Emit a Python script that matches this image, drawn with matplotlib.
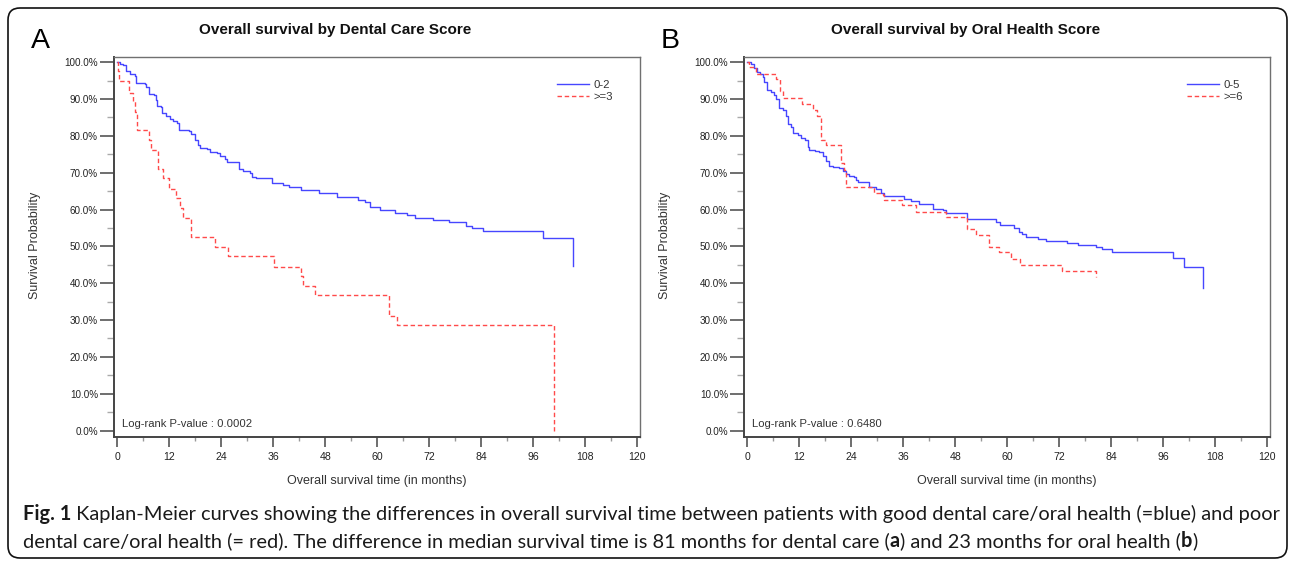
import matplotlib
matplotlib.use('Agg')
import matplotlib.pyplot as plt
from matplotlib.lines import Line2D
from matplotlib.patches import FancyBboxPatch
from matplotlib.ticker import MultipleLocator, FixedLocator

plt.rcParams['font.family'] = ['Liberation Sans', 'DejaVu Sans']

# Panel A: dental care score (time in months, survival in %)
dental_low_t = [0, 0.5, 1.2, 1.9, 2.8, 4.0, 4.3, 6.3, 6.7, 7.3, 8.4, 8.8, 9.2, 10.0, 10.4,
                11.3, 12.1, 12.9, 13.8, 14.3, 16.6, 17.1, 17.9, 18.5, 19.1, 20.6, 21.4, 23.1,
                23.7, 24.9, 25.3, 28.0, 29.1, 30.7, 31.1, 32.0, 35.7, 38.3, 39.6, 42.5, 46.5,
                50.7, 55.5, 57.1, 58.4, 60.7, 64.2, 66.9, 68.8, 72.8, 76.5, 80.5, 81.8, 84.4,
                98.4, 105.2]
dental_low_s = [100, 99.6, 99.1, 97.5, 96.9, 96.2, 94.4, 94.0, 93.3, 91.4, 91.1, 89.8, 88.0,
                87.7, 86.2, 85.3, 84.6, 84.1, 83.5, 81.6, 81.3, 80.5, 78.9, 77.5, 76.8, 76.5,
                75.7, 75.3, 74.4, 73.8, 72.8, 71.0, 70.5, 69.8, 68.9, 68.5, 67.1, 66.7, 66.0,
                65.3, 64.6, 63.4, 62.7, 62.0, 60.7, 59.8, 59.1, 58.4, 57.8, 57.2, 56.5, 55.6,
                54.9, 54.2, 52.2, 44.6]
dental_high_t = [0, 0.1, 0.3, 2.6, 3.5, 4.0, 4.5, 7.4, 7.8, 9.4, 10.5, 11.9, 13.5, 14.4, 15.2,
                 17.0, 22.6, 25.6, 36.2, 42.5, 42.9, 45.7, 62.7, 64.5, 100.9]
dental_high_s = [100, 97.5, 94.8, 91.5, 89.4, 86.6, 81.5, 78.9, 76.2, 70.9, 68.5, 65.7, 63.0,
                 60.3, 57.8, 52.4, 49.8, 47.3, 44.5, 42.0, 39.1, 36.7, 31.2, 28.7, 0]

# Panel B: oral health score
oral_low_t = [0, 0.85, 1.6, 2.2, 2.8, 3.5, 3.9, 4.5, 5.5, 6.2, 6.6, 7.4, 8.2, 8.8, 9.3, 10.1,
              10.5, 11.6, 12.4, 13.2, 13.9, 14.3, 15.5, 16.6, 17.4, 18.1, 18.9, 19.7, 21.2,
              22.0, 22.8, 23.5, 24.7, 25.1, 25.5, 28.1, 29.7, 30.8, 31.6, 36.2, 37.8, 39.7,
              42.8, 45.1, 45.8, 50.8, 57.4, 58.3, 61.6, 62.8, 63.5, 64.3, 67.0, 68.9, 73.9,
              76.3, 80.5, 81.9, 84.3, 98.3, 100.9, 105.3]
oral_low_s = [100, 99.4, 98.5, 97.3, 96.9, 96.0, 94.5, 92.4, 91.8, 91.2, 90.0, 87.5, 86.9,
              85.3, 83.3, 82.4, 80.9, 80.2, 79.4, 78.9, 77.1, 76.2, 75.8, 75.5, 74.4, 73.3,
              71.8, 71.5, 71.2, 70.5, 69.6, 69.1, 68.7, 68.0, 67.5, 66.2, 65.7, 64.5, 63.8,
              62.8, 62.4, 61.5, 60.1, 59.8, 59.1, 57.5, 56.6, 55.7, 55.1, 53.9, 53.3, 52.4,
              51.9, 51.4, 50.9, 50.3, 49.9, 49.2, 48.5, 46.7, 44.4, 38.8]
oral_high_t = [0, 0.3, 2.0, 6.6, 7.5, 8.2, 12.6, 15.1, 16.0, 17.0, 18.1, 21.5, 22.4, 22.8,
               29.3, 31.2, 31.6, 35.8, 38.9, 45.8, 50.8, 52.7, 55.9, 58.2, 60.9, 62.9, 72.6, 80.5]
oral_high_s = [100, 98.7, 96.9, 95.3, 92.1, 90.3, 88.6, 87.1, 85.3, 78.9, 77.4, 72.5, 70.7,
               66.0, 64.5, 63.9, 62.7, 61.2, 59.4, 58.0, 54.8, 53.2, 49.8, 48.5, 46.6, 44.8,
               43.3, 41.6]

panels = [
    dict(letter='A', title='Overall survival by Dental Care Score', labels=['0-2', '>=3'],
         low=(dental_low_t, dental_low_s), high=(dental_high_t, dental_high_s),
         pvalue='Log-rank P-value : 0.0002', left=114, title_x=335),
    dict(letter='B', title='Overall survival by Oral Health Score', labels=['0-5', '>=6'],
         low=(oral_low_t, oral_low_s), high=(oral_high_t, oral_high_s),
         pvalue='Log-rank P-value : 0.6480', left=744, title_x=966),
]

W, H = 1292, 563
BLUE = '#4646ff'
RED = '#ff4a4a'
NARROW = ['Liberation Sans Narrow', 'Liberation Sans', 'DejaVu Sans']

fig = plt.figure(figsize=(W / 100, H / 100), dpi=100)

ax_w, top, bottom = 526, 57, 437
for p in panels:
    ax = fig.add_axes([p['left'] / W, 1 - bottom / H, ax_w / W, (bottom - top) / H])
    ax.step(p['low'][0], p['low'][1], where='post', color=BLUE, lw=1.0)
    ax.step(p['high'][0], p['high'][1], where='post', color=RED, lw=1.0,
            linestyle=(0, (3.2, 2)))
    ax.set_xlim(-0.8, 120.7)
    ax.set_ylim(-1.76, 101.4)

    ax.yaxis.set_major_locator(FixedLocator(range(0, 101, 10)))
    ax.yaxis.set_minor_locator(FixedLocator(range(5, 100, 10)))
    ax.set_yticklabels([f'{v:.1f}%' for v in range(0, 101, 10)])
    ax.xaxis.set_major_locator(MultipleLocator(12))
    ax.xaxis.set_minor_locator(MultipleLocator(6))

    ax.tick_params(axis='y', which='major', length=10, width=1.2, color='#555555',
                   labelsize=7.1, labelcolor='#222222', pad=1.5)
    ax.tick_params(axis='y', which='minor', length=5, width=1.0, color='#aaaaaa')
    ax.tick_params(axis='x', which='major', length=7, width=1.2, color='#555555',
                   labelsize=7.6, labelcolor='#222222', pad=4)
    ax.tick_params(axis='x', which='minor', length=3, width=1.0, color='#999999')
    for lab in ax.get_xticklabels():
        lab.set_family(NARROW)

    for side in ['left', 'bottom']:
        ax.spines[side].set_color('#444444')
        ax.spines[side].set_linewidth(1.4)
    for side in ['top', 'right']:
        ax.spines[side].set_color('#707070')
        ax.spines[side].set_linewidth(1.0)

    handles = [Line2D([], [], color=BLUE, lw=1.0),
               Line2D([], [], color=RED, lw=1.0, linestyle=(0, (3.2, 2)))]
    ax.legend(handles, p['labels'], loc='upper left', bbox_to_anchor=(0.842, 0.94),
              frameon=False, fontsize=8.2, handlelength=2.8, handletextpad=0.4,
              labelspacing=0.2, borderpad=0, borderaxespad=0, labelcolor='#333333')

    ax.text(8 / ax_w, (bottom - 424) / (bottom - top), p['pvalue'], transform=ax.transAxes,
            fontsize=8.1, color='#333333', va='center', ha='left')

    # labels around the plot area
    fig.text((p['left'] - 79) / W, 1 - 245 / H, 'Survival Probability', rotation=90,
             fontsize=9.0, color='#333333', ha='center', va='center')
    fig.text((p['left'] + 263) / W, 1 - 481 / H, 'Overall survival time (in months)',
             fontsize=9.0, color='#333333', ha='center', va='center')
    fig.text(p['title_x'] / W, 1 - 30 / H, p['title'], fontsize=11, weight='bold',
             ha='center', va='center', color='#111111')
    fig.text((p['left'] - 83) / W, 1 - 48 / H, p['letter'], fontsize=20.5, ha='left',
             va='baseline', color='#000000')

# rounded frame round the whole figure
frame = FancyBboxPatch((0.08, 0.05), 12.79, 5.50, boxstyle='round,pad=0,rounding_size=0.12',
                       transform=fig.dpi_scale_trans, fill=False, edgecolor='#111111', lw=1.2)
fig.patches.append(frame)

# caption with bold runs
renderer = fig.canvas.get_renderer()
line1 = [('Fig. 1', 'bold'),
         (' Kaplan-Meier curves showing the differences in overall survival time between '
          'patients with good dental care/oral health (=blue) and poor', 'normal')]
line2 = [('dental care/oral health (= red). The difference in median survival time is 81 '
          'months for dental care (', 'normal'), ('a', 'bold'),
         (') and 23 months for oral health (', 'normal'), ('b', 'bold'), (')', 'normal')]


def run_width(runs, size):
    total = 0
    for s, w in runs:
        t = fig.text(0, 0, s, fontsize=size, weight=w, family='Lato')
        total += t.get_window_extent(renderer).width
        t.remove()
    return total


def draw_runs(runs, x, y, size):
    for s, w in runs:
        t = fig.text(x / W, 1 - y / H, s, fontsize=size, weight=w, family='Lato',
                     ha='left', va='baseline', color='#1a1a1a')
        x += t.get_window_extent(renderer).width


cap_size = 12.0 * 1252 / run_width(line1, 12.0)
draw_runs(line1, 23, 520, cap_size)
draw_runs(line2, 23, 547, cap_size)

fig.savefig('out.png', dpi=100)
